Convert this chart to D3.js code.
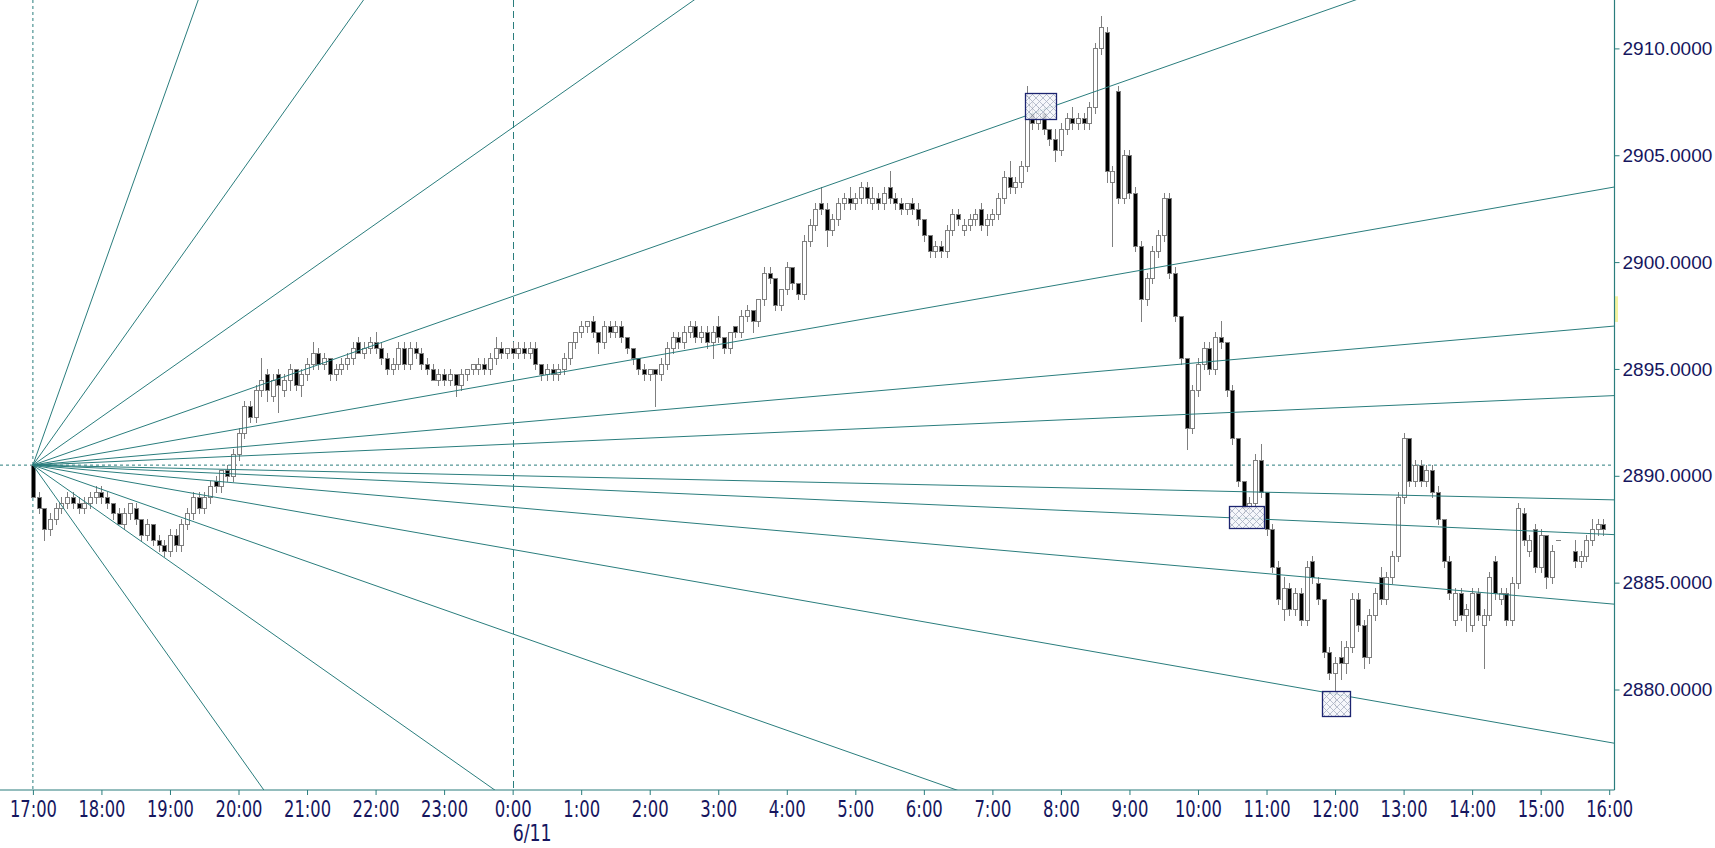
<!DOCTYPE html>
<html><head><meta charset="utf-8">
<script src="https://cdn.jsdelivr.net/npm/d3@7"></script>
<style>html,body{margin:0;padding:0;background:#fff;overflow:hidden}</style>
</head><body><svg id="c" width="1715" height="848"></svg>
<script>
// 5-minute bars from 17:00 (index 0) to 15:55 (index 275); null = no bar
const opens = [2890.5,2889,2888.5,2887.5,2888,2888.5,2888.75,2889,2888.75,2888.5,2888.75,2889,2889.25,2889,2888.75,2888.25,2887.75,2888.25,2888.5,2888,2887.25,2887.75,2887,2886.75,2886.5,2887.25,2886.75,2887.75,2888.25,2889,2888.5,2889,2889.75,2889.5,2890.25,2890,2891,2892,2893.25,2892.75,2894,2894.75,2893.75,2894.75,2894,2894.5,2895,2894.25,2894.75,2895.25,2895.75,2895.25,2895.5,2894.75,2895,2895.25,2895.5,2896.25,2895.75,2896,2896.25,2896,2895.5,2895,2895.25,2896,2895.25,2896,2895.75,2895.25,2895,2894.5,2894.75,2894.5,2894.75,2894.25,2894.75,2895,2895,2895.25,2895,2895.5,2896,2895.75,2896,2895.75,2896,2895.75,2896,2895.25,2894.75,2895,2894.75,2895,2895.5,2896.25,2896.75,2897,2897.25,2896.75,2896.25,2897,2896.75,2897,2896.5,2896,2895.5,2895,2894.75,2895,2894.75,2895.25,2896,2896.5,2896.25,2896.75,2897,2896.5,2896.75,2896.25,2897,2896.5,2896,2897,2896.75,2897.5,2897.75,2897.25,2898.25,2899.5,2899.25,2898,2898.75,2899.75,2899,2898.5,2901,2901.75,2902.75,2902.5,2901.5,2902,2902.75,2903,2902.75,2903,2903.5,2902.75,2903,2902.75,2903.5,2903,2902.75,2902.5,2902.75,2902.5,2902,2901.25,2900.5,2900.75,2900.5,2901.5,2902.25,2901.5,2901.75,2902,2902.5,2901.75,2902,2902.25,2903,2904,2903.5,2903.75,2904.5,2907,2906.5,2907,2906.25,2905.75,2905.25,2906.25,2906.75,2906.5,2906.75,2906.5,2907.25,2910,2910.75,2903.75,2908,2903,2905,2903.25,2900.75,2898.25,2899.25,2900.5,2901.25,2903,2899.5,2897.5,2895.5,2892.25,2894,2895.25,2896,2895,2896.5,2896.25,2894,2891.75,2889.75,2888.5,2888.75,2890.75,2889.25,2887.5,2885.75,2883.75,2884.75,2883.75,2884.5,2883.25,2886,2885,2884.25,2881.75,2880.75,2881.5,2881.25,2882,2884.25,2883,2881.5,2883.5,2885.25,2884.25,2885.25,2886.25,2889,2891.75,2889.75,2890.5,2889.75,2890.25,2889.25,2888,2886,2883.25,2884.5,2883.5,2883,2884.5,2883,2883.5,2886,2884.25,2884.5,2883.25,2885,2888.25,2886.5,2887.5,2885.75,2887.25,2885.25,2887,null,null,2886.5,2886,2886.25,2887,2887.5,2887.75];
const highs = [2890.5,2889.25,2888.5,2888.25,2888.75,2889,2889.25,2889.25,2889,2889,2889.25,2889.5,2889.5,2889.25,2888.75,2888.5,2888.5,2888.75,2888.75,2888,2888,2887.75,2887.25,2887,2887.5,2887.5,2888,2888.5,2889.25,2889.25,2889.25,2889.75,2890,2890.25,2890.5,2891.25,2892.25,2893.5,2893.5,2894.25,2895.5,2895,2894.75,2895,2894.75,2895.25,2895,2895,2895.5,2896.25,2896,2895.75,2895.5,2895.25,2895.5,2895.75,2896.25,2896.5,2896.25,2896.5,2896.75,2896.25,2895.75,2895.5,2896.25,2896.25,2896.25,2896.25,2896,2895.5,2895.25,2895,2895,2895,2894.75,2895,2895,2895.25,2895.5,2895.5,2895.75,2896.5,2896.25,2896,2896.25,2896.25,2896.25,2896.25,2896.25,2895.25,2895.25,2895.25,2895.25,2895.75,2896.25,2896.75,2897.25,2897.25,2897.5,2896.75,2897.25,2897.25,2897.25,2897.25,2896.5,2896,2895.5,2895.25,2895,2895,2895.5,2896.25,2896.75,2896.75,2897,2897.25,2897.25,2897,2897,2897,2897.5,2896.5,2896.75,2897,2897.75,2898,2897.75,2898.25,2899.75,2899.75,2899.25,2898.75,2900,2899.75,2899,2901.25,2902,2902.75,2903.5,2902.75,2902.25,2903,2903.25,2903.5,2903.25,2903.75,2903.75,2903.5,2903.25,2903.5,2904.25,2903.25,2903,2902.75,2903,2902.75,2902,2901.25,2901,2901,2901.75,2902.5,2902.5,2902,2902.25,2902.5,2902.75,2902.25,2902.5,2903.25,2904.25,2904.75,2904,2904.75,2908.25,2907.5,2907.25,2907.25,2906.25,2906.25,2906.5,2907,2907.25,2907,2907,2907.5,2910.25,2911.5,2911,2904.5,2908.25,2905.25,2905.25,2903.5,2901,2899.5,2900.75,2901.5,2903.25,2903.25,2899.75,2897.5,2895.5,2894.25,2895.5,2896.25,2896.25,2896.75,2897.25,2896.25,2894.25,2891.75,2889.75,2889,2891,2891.5,2889.25,2887.75,2886,2885.25,2885,2884.75,2884.75,2886,2886.25,2885.25,2884.25,2882,2881.5,2882.25,2882.25,2884.5,2884.5,2883.25,2883.75,2884.75,2885.75,2885.5,2886.5,2889.25,2892,2891.75,2890.75,2890.75,2890.5,2890.5,2889.5,2888,2886.25,2884.75,2884.75,2884,2884.75,2884.75,2883.75,2885.5,2886.25,2884.75,2884.75,2885.25,2888.75,2888.5,2887.25,2887.75,2887.5,2887.25,2886.75,2887,null,null,2887,2886.5,2887.25,2888,2888,2888];
const lows = [2889,2888.25,2887,2887.25,2887.75,2888.25,2888.5,2888.5,2888.25,2888.25,2888.5,2888.75,2888.75,2888.5,2888,2887.75,2887.5,2888,2887.75,2887,2887,2886.75,2886.5,2886.25,2886.25,2886.5,2886.5,2887.5,2888,2888.25,2888.25,2888.75,2889.25,2889.25,2889.75,2889.75,2890.75,2891.75,2892.5,2892.5,2893.75,2893.5,2893.5,2893,2893.75,2894,2894,2893.75,2894.5,2895,2895,2895,2894.5,2894.5,2894.75,2895,2895.25,2895.75,2895.5,2895.75,2895.75,2895.25,2894.75,2894.75,2895,2895,2895,2895.5,2895,2894.75,2894.5,2894.25,2894.25,2894.25,2893.75,2894,2894.5,2894.75,2894.75,2894.75,2894.75,2895.25,2895.5,2895.5,2895.5,2895.5,2895.5,2895.5,2895,2894.5,2894.5,2894.5,2894.5,2894.75,2895.25,2896,2896.5,2896.75,2896.5,2895.75,2896,2896.5,2896.5,2896.25,2895.75,2895.25,2894.75,2894.5,2894.5,2893.25,2894.5,2895,2895.75,2896,2896,2896.5,2896.25,2896.25,2896,2895.5,2896.25,2895.75,2895.75,2896.5,2896.5,2897.25,2896.75,2897,2898,2899,2897.75,2897.75,2898.5,2898.75,2898.25,2898.25,2900.75,2901.5,2902.25,2900.75,2901.25,2901.75,2902.5,2902.5,2902.5,2902.75,2902.75,2902.5,2902.5,2902.5,2902.75,2902.5,2902.25,2902.25,2902.25,2901.75,2901,2900.25,2900.25,2900.25,2900.25,2901.25,2901.75,2901.25,2901.5,2901.75,2901.5,2901.25,2901.75,2902,2902.75,2903.25,2903.25,2903.5,2904.25,2906.25,2906.25,2906,2905.5,2904.75,2905,2906,2906.25,2906.25,2906.25,2906.25,2907,2909.75,2903.75,2900.75,2902.75,2902.75,2903,2900.5,2897.25,2898,2899,2900.25,2901,2899.25,2897.25,2895.25,2891.25,2892,2893.75,2895,2894.75,2894.75,2896,2893.75,2891.5,2889.5,2888.25,2888.25,2888.5,2889,2887.25,2885.5,2884,2883.25,2883.5,2883.5,2883,2883,2885,2884,2881.5,2880.5,2879.25,2880.5,2880.75,2881.75,2882.75,2881,2881.25,2883.25,2884,2884,2885,2886,2888.75,2889.5,2889.5,2889.5,2889.5,2889,2887.75,2885.75,2884.25,2883,2883.25,2882.75,2882.75,2883.25,2881,2883.25,2884.25,2884,2883,2883,2884.75,2886.75,2886.25,2885.5,2885.5,2884.75,2885,2887,null,null,2885.75,2885.75,2886,2886.75,2887.25,2887.25];
const closes = [2889,2888.5,2887.5,2888,2888.5,2888.75,2889,2888.75,2888.5,2888.75,2889,2889.25,2889,2888.75,2888.25,2887.75,2888.25,2888.75,2888,2887.25,2887.75,2887,2886.75,2886.5,2887.25,2886.75,2887.75,2888.25,2889,2888.5,2889,2889.5,2889.5,2890.25,2890,2891,2892,2893.25,2892.75,2894,2894.5,2894,2894.5,2894.25,2894.5,2895,2894.25,2894.75,2895.25,2895.75,2895.25,2895.5,2894.75,2895,2895.25,2895.5,2896,2895.75,2896,2896.25,2896,2895.5,2895,2895.25,2896,2895.25,2896,2895.75,2895.25,2895,2894.5,2894.75,2894.5,2894.75,2894.25,2894.75,2895,2895.25,2895.25,2895,2895.5,2896,2895.75,2896,2895.75,2896,2895.75,2896,2895.25,2894.75,2895,2894.75,2895,2895.5,2896.25,2896.75,2897,2897.25,2896.75,2896.25,2897,2896.75,2897,2896.5,2896,2895.5,2895,2894.75,2895,2894.75,2895.25,2896,2896.5,2896.25,2896.75,2897,2896.5,2896.75,2896.25,2896.75,2896.5,2896,2896.75,2896.75,2897.5,2897.75,2897.25,2898.25,2899.5,2899.25,2898,2898.75,2899.75,2899,2898.5,2901,2901.75,2902.5,2902.5,2901.5,2902,2902.75,2903,2902.75,2903,2903.5,2903,2903,2902.75,2903.25,2903,2902.75,2902.5,2902.75,2902.5,2902,2901.25,2900.5,2900.75,2900.5,2901.5,2902.25,2902,2901.75,2902,2902.25,2901.75,2902,2902.25,2903,2904,2903.5,2903.75,2904.5,2907.75,2906.5,2907,2906.25,2905.75,2905.25,2906.25,2906.75,2906.5,2906.75,2906.5,2907.25,2910,2911,2904.25,2904.25,2903,2905,2903.25,2900.75,2898.25,2899.25,2900.5,2901.25,2903,2899.5,2897.5,2895.5,2892.25,2894,2895.25,2896,2895,2896.5,2896.25,2894,2891.75,2889.75,2888.5,2888.75,2890.75,2889.25,2887.5,2885.75,2884.25,2884.75,2883.75,2884.5,2883.25,2885.75,2885.25,2884.25,2881.75,2880.75,2881.25,2881.25,2882,2884.25,2883,2881.5,2883.5,2884.5,2884.25,2885.25,2886.25,2889,2891.75,2889.75,2890.5,2889.75,2890.25,2889.25,2888,2886,2884.5,2884.5,2883.5,2883.75,2884.5,2883.5,2883.5,2885.25,2884.5,2884.5,2883.25,2885,2888.5,2887,2887,2885.75,2887.25,2885.25,2886.5,2887,null,null,2886,2886.25,2887,2887.5,2887.75,2887.5];

const hourLabels = ["17:00","18:00","19:00","20:00","21:00","22:00","23:00","0:00","1:00","2:00","3:00","4:00","5:00","6:00","7:00","8:00","9:00","10:00","11:00","12:00","13:00","14:00","15:00","16:00"];
const barsPerHour = 12;
const dateMarks = [{hour: 7, text: "6/11"}];
const priceTicks = [2880, 2885, 2890, 2895, 2900, 2905, 2910];

const fanOrigin = {bar: 0, price: 2890.5};
const fanUnit = 0.047;              // price per bar of the base ray
const fanUpRatios = [16, 8, 4, 2, 1, 0.5, 0.25];
const fanDownRatios = [0.125, 0.25, 0.5, 1, 2, 4, 8];

const boxBarFrom = [173.75, 209.5, 225.8];
const boxBarTo   = [179.1, 215.5, 230.7];
const boxTop     = [2907.9, 2888.6, 2879.95];
const boxBottom  = [2906.7, 2887.55, 2878.75];

const markerPrice = [2897.2, 2898.4];   // small highlight on the price axis

// ---------- drawing ----------
const plotR = 1614.5, plotB = 790;
const teal = "#2a7d7d", navy = "#16165e";
const svg = d3.select("#c");

const x = d3.scaleLinear().domain([0, 276]).range([32.9, 1609.2]);
const y = d3.scaleLinear().domain([2890, 2910]).range([475.8, 48.4]);

const defs = svg.append("defs");
defs.append("clipPath").attr("id","plot").append("rect")
  .attr("x",0).attr("y",0).attr("width",plotR).attr("height",plotB);
const pat = defs.append("pattern").attr("id","hatch").attr("patternUnits","userSpaceOnUse")
  .attr("width",7).attr("height",7);
pat.append("rect").attr("width",7).attr("height",7).attr("fill","#f4f6fa");
pat.append("path").attr("d","M0,0L7,7M7,0L0,7").attr("stroke","#9aa3b8").attr("stroke-width",0.8);

const g = svg.append("g").attr("clip-path","url(#plot)");

// reference dotted lines
g.append("line").attr("x1",x(fanOrigin.bar)).attr("x2",x(fanOrigin.bar))
  .attr("y1",0).attr("y2",plotB).attr("stroke",teal).attr("stroke-dasharray","3,3");
g.append("line").attr("x1",0).attr("x2",plotR)
  .attr("y1",y(fanOrigin.price)).attr("y2",y(fanOrigin.price))
  .attr("stroke",teal).attr("stroke-dasharray","3,3");
dateMarks.forEach(d=>{
  const xx = Math.round(x(d.hour*barsPerHour))+0.5;
  g.append("line").attr("x1",xx).attr("x2",xx).attr("y1",0).attr("y2",plotB)
   .attr("stroke",teal).attr("stroke-dasharray","7,4");
});

// candles
const idx = d3.range(opens.length).filter(i => opens[i] !== null);
const cg = g.append("g").attr("shape-rendering","crispEdges");
const bw = 4;
idx.forEach(i=>{
  const xc = Math.round(x(i));
  const o=opens[i], c=closes[i], h=highs[i], l=lows[i];
  cg.append("line").attr("x1",xc+0.5).attr("x2",xc+0.5)
    .attr("y1",Math.round(y(h))).attr("y2",Math.round(y(l))+1)
    .attr("stroke","#7f7f7f");
  const top = Math.round(y(Math.max(o,c))), bot = Math.round(y(Math.min(o,c)));
  if (bot - top < 1) {
    cg.append("line").attr("x1",xc-2).attr("x2",xc+3).attr("y1",top+0.5).attr("y2",top+0.5)
      .attr("stroke","#7f7f7f");
  } else {
    cg.append("rect").attr("x",xc-bw/2+0.5).attr("y",top+0.5).attr("width",bw).attr("height",bot-top)
      .attr("fill", c>=o ? "#ffffff" : "#000000").attr("stroke","#7f7f7f");
  }
});

// fan rays
const farBar = 2000;
const x0 = x(fanOrigin.bar), y0 = y(fanOrigin.price);
const rays = fanUpRatios.map(r=>r).concat(fanDownRatios.map(r=>-r));
g.selectAll("line.ray").data(rays).enter().append("line").attr("class","ray")
  .attr("x1",x0).attr("y1",y0)
  .attr("x2",x(fanOrigin.bar+farBar))
  .attr("y2",r=>y(fanOrigin.price + r*fanUnit*farBar))
  .attr("stroke",teal).attr("stroke-width",1);

// boxes
boxBarFrom.forEach((b,k)=>{
  const xa = Math.round(x(b))+0.5, xb = Math.round(x(boxBarTo[k]))+0.5;
  const ya = Math.round(y(boxTop[k]))+0.5, yb = Math.round(y(boxBottom[k]))+0.5;
  g.append("rect").attr("x",xa).attr("y",ya).attr("width",xb-xa).attr("height",yb-ya)
    .attr("fill","url(#hatch)").attr("fill-opacity",0.85).attr("stroke","#1c2470").attr("stroke-width",1.3);
});

// axes
svg.append("rect").attr("x",plotR+0.5).attr("y",y(markerPrice[1])).attr("width",3)
  .attr("height",y(markerPrice[0])-y(markerPrice[1])).attr("fill","#f4f3a0");
svg.append("line").attr("x1",plotR).attr("x2",plotR).attr("y1",0).attr("y2",plotB)
  .attr("stroke",teal).attr("stroke-width",1.2);
svg.append("line").attr("x1",0).attr("x2",plotR).attr("y1",plotB).attr("y2",plotB)
  .attr("stroke",teal).attr("stroke-width",1.2);

const yAxis = d3.axisRight(y).tickValues(priceTicks).tickSize(5).tickPadding(3)
  .tickFormat(d3.format(".4f"));
const ya = svg.append("g").attr("transform",`translate(${plotR},0)`).call(yAxis);
ya.select(".domain").remove();
ya.selectAll(".tick line").attr("stroke",teal);
ya.selectAll(".tick text").attr("fill",navy)
  .attr("font-family","Liberation Sans, Arial, sans-serif").attr("font-size",19);

const xAxis = d3.axisBottom(x).tickValues(hourLabels.map((d,i)=>i*barsPerHour))
  .tickSize(5).tickPadding(6).tickFormat((d,i)=>hourLabels[i]);
const xa = svg.append("g").attr("transform",`translate(0,${plotB})`).call(xAxis);
xa.select(".domain").remove();
xa.selectAll(".tick line").attr("stroke",teal);
xa.selectAll(".tick text").attr("fill",navy).attr("font-family","DejaVu Sans, Verdana, sans-serif")
  .attr("font-size",23).each(function(d,i){
    const n = hourLabels[i].length;
    d3.select(this).attr("textLength", n===5 ? 47 : 37).attr("lengthAdjust","spacingAndGlyphs");
  });
dateMarks.forEach(d=>{
  svg.append("text").attr("x",x(d.hour*barsPerHour)).attr("y",841)
    .attr("text-anchor","start").attr("fill",navy)
    .attr("font-family","DejaVu Sans, Verdana, sans-serif").attr("font-size",23)
    .attr("textLength",39).attr("lengthAdjust","spacingAndGlyphs").text(d.text);
});
</script></body></html>
